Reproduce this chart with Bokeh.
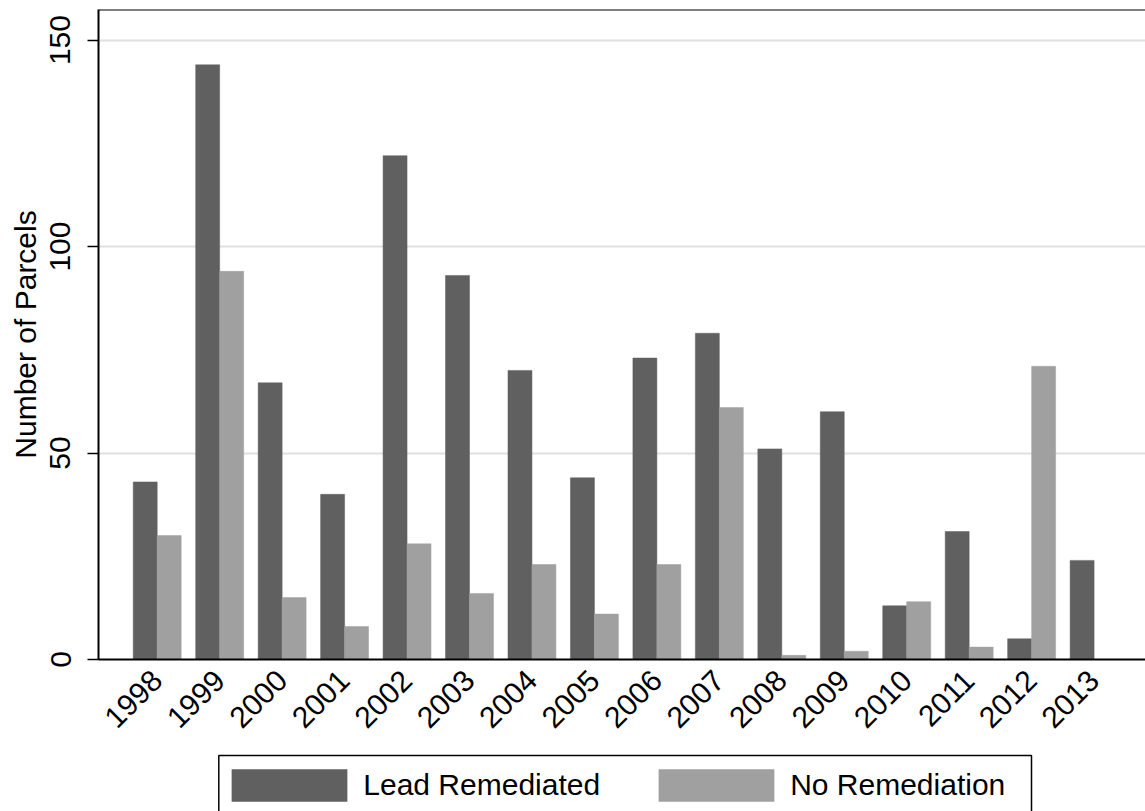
from bokeh.plotting import figure
from bokeh.layouts import column
from bokeh.models import (Range1d, FixedTicker, Legend, LegendItem, Span,
                          BoxAnnotation)
from bokeh.embed import file_html
from bokeh.resources import INLINE

# ---- data -------------------------------------------------------------
years = ["1998", "1999", "2000", "2001", "2002", "2003", "2004", "2005",
         "2006", "2007", "2008", "2009", "2010", "2011", "2012", "2013"]
lead_remediated = [43, 144, 67, 40, 122, 93, 70, 44, 73, 79, 51, 60, 13, 31, 5, 24]
no_remediation = [30, 94, 15, 8, 28, 16, 23, 11, 23, 61, 1, 2, 14, 3, 71, 0]
y_ticks = [0, 50, 100, 150]
series_labels = ["Lead Remediated", "No Remediation"]

# ---- style ------------------------------------------------------------
DARK = "#606060"
LIGHT = "#a0a0a0"
FONT = "Liberation Sans"
FS = "30px"
BAR_W = 0.384
X_START, X_END = -0.94, 15.823
Y_END = 157.4
W = 1145
H_MAIN = 750
H_LEG = 61
LEFT = 98

idx = list(range(len(years)))
x_lead = [i - BAR_W / 2 for i in idx]
x_none = [i + BAR_W / 2 for i in idx]

# ---- main chart -------------------------------------------------------
p = figure(width=W, height=H_MAIN, output_backend="svg", toolbar_location=None,
           x_range=Range1d(X_START, X_END), y_range=Range1d(0, Y_END),
           min_border_left=LEFT, min_border_right=0, min_border_top=9,
           min_border_bottom=91)
p.outline_line_color = None
p.background_fill_color = "white"
p.border_fill_color = "white"

p.vbar(x=x_lead, top=lead_remediated, width=BAR_W, fill_color=DARK,
       line_color=DARK, line_width=0.5)
p.vbar(x=x_none, top=no_remediation, width=BAR_W, fill_color=LIGHT,
       line_color=LIGHT, line_width=0.5)

# top border of the plot region
p.add_layout(Span(location=Y_END, dimension="width", line_color="black",
                  line_width=2))

# x axis
p.xaxis.ticker = FixedTicker(ticks=idx)
p.xaxis.major_label_overrides = {i: y for i, y in zip(idx, years)}
p.xaxis.major_label_orientation = 0.785398
p.xaxis.major_tick_out = 0
p.xaxis.major_tick_in = 0
p.xaxis.minor_tick_out = 0
p.xaxis.minor_tick_in = 0
p.xaxis.axis_line_color = "black"
p.xaxis.axis_line_width = 2
p.xaxis.major_label_text_font = FONT
p.xaxis.major_label_text_font_size = FS
p.xaxis.major_label_text_color = "black"
p.xaxis.major_label_standoff = 16
p.xgrid.visible = False

# y axis
p.yaxis.ticker = FixedTicker(ticks=y_ticks)
p.yaxis.major_label_orientation = "vertical"
p.yaxis.major_tick_out = 11
p.yaxis.major_tick_in = 0
p.yaxis.major_tick_line_width = 1.5
p.yaxis.minor_tick_out = 0
p.yaxis.minor_tick_in = 0
p.yaxis.axis_line_color = "black"
p.yaxis.axis_line_width = 2
p.yaxis.major_label_text_font = FONT
p.yaxis.major_label_text_font_size = FS
p.yaxis.major_label_text_color = "black"
p.yaxis.major_label_standoff = 17
p.yaxis.axis_label = "Number of Parcels"
p.yaxis.axis_label_text_font = FONT
p.yaxis.axis_label_text_font_size = FS
p.yaxis.axis_label_text_font_style = "normal"
p.yaxis.axis_label_text_color = "black"
p.yaxis.axis_label_standoff = 6
p.ygrid.ticker = FixedTicker(ticks=y_ticks)
p.ygrid.grid_line_color = "#e0e0e0"
p.ygrid.grid_line_width = 2

# ---- legend strip (pixel-unit ranges, frame aligned with main chart) ---
q = figure(width=W, height=H_LEG, output_backend="svg", toolbar_location=None,
           x_range=Range1d(LEFT, W), y_range=Range1d(0, H_LEG),
           x_axis_type=None, y_axis_type=None,
           min_border_left=LEFT, min_border_right=0, min_border_top=0,
           min_border_bottom=0)
q.outline_line_color = None
q.xgrid.visible = False
q.ygrid.visible = False
q.border_fill_color = "white"

k1 = q.vbar(x=x_lead, top=lead_remediated, width=BAR_W, fill_color=DARK,
            line_color=DARK, line_width=0.5, visible=False)
k2 = q.vbar(x=x_none, top=no_remediation, width=BAR_W, fill_color=LIGHT,
            line_color=LIGHT, line_width=0.5, visible=False)

# legend frame box (bottom edge runs off the page as in the original)
q.add_layout(BoxAnnotation(left=218.3, right=1031, top=H_LEG - 5,
                           bottom=-20, fill_alpha=0, line_color="black",
                           line_alpha=1.0, line_width=1.5))

legend = Legend(items=[LegendItem(label=series_labels[0], renderers=[k1]),
                       LegendItem(label=series_labels[1], renderers=[k2])],
                orientation="horizontal", location=(217.3 - LEFT, 6),
                glyph_width=144, glyph_height=40, label_standoff=2,
                spacing=44, padding=0, margin=0, label_width=236,
                label_text_font=FONT, label_text_font_size=FS,
                label_text_color="black",
                border_line_color=None, background_fill_alpha=0)
q.add_layout(legend, "center")

open("out.html", "w").write(file_html(column(p, q), INLINE))
